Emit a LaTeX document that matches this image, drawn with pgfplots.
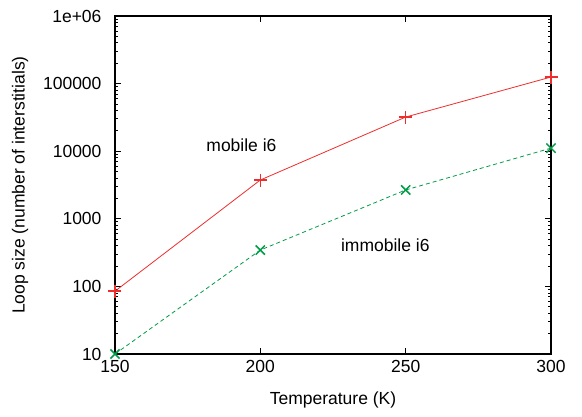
\documentclass[border=0pt]{standalone}
\usepackage{fontspec}
\setmainfont{Liberation Sans}
\usepackage{pgfplots}
\pgfplotsset{compat=1.18}

\definecolor{lred}{RGB}{238,45,45}
\definecolor{lgreen}{RGB}{0,155,70}

\begin{document}
\begin{tikzpicture}
\begin{axis}[
    scale only axis,
    width=436pt, height=338pt,
    font=\fontsize{17.5}{20}\selectfont,
    ticklabel style={font=\fontsize{17.5}{20}\selectfont},
    label style={font=\fontsize{17.5}{20}\selectfont},
    ymode=log,
    xmin=150, xmax=300,
    ymin=10, ymax=1e6,
    xtick={150,200,250,300},
    ytick={10,100,1000,10000,100000,1000000},
    yticklabels={10,100,1000,10000,100000,1e+06},
    /pgf/number format/assume math mode=true,
    tick align=inside,
    major tick length=6pt,
    minor tick length=3pt,
    axis line style={line width=1.4pt},
    every tick/.style={black, line width=0.9pt},
    xlabel={Temperature (K)},
    ylabel={Loop size (number of interstitials)},
    xlabel style={at={(axis description cs:0.5,0)}, anchor=center, yshift=-46pt},
    ylabel style={at={(axis description cs:0,0.5)}, anchor=center, yshift=95pt},
    xticklabel style={yshift=-3pt},
    yticklabel style={xshift=-10pt},
    clip=false,
]
\addplot[lred, line width=0.8pt, mark=+, mark size=6.5pt, mark options={solid, line width=1.5pt}]
coordinates {(150,85) (200,3750) (250,32000) (300,125000)};
\addplot[lgreen, line width=0.8pt, dash pattern=on 4pt off 3pt, mark=x, mark size=6.5pt, mark options={solid, line width=1.5pt}]
coordinates {(150,10) (200,345) (250,2670) (300,11100)};
\node at (axis cs:193.5,12300) {mobile i6};
\node at (axis cs:243,410) {immobile i6};
\end{axis}
\path (current axis.south west) ++(-115pt,-62pt) coordinate (bl);
\path (current axis.north east) ++(31pt,16pt) coordinate (tr);
\useasboundingbox (bl) rectangle (tr);
\end{tikzpicture}
\end{document}
